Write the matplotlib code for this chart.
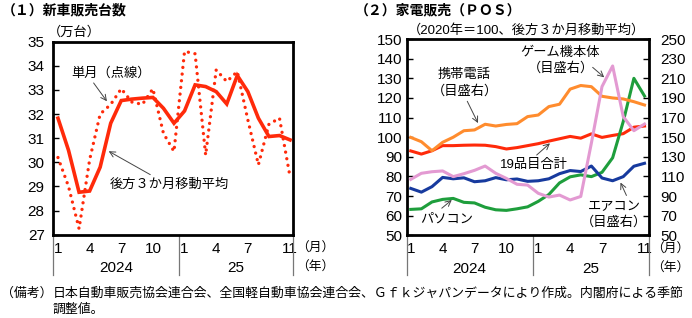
import matplotlib
matplotlib.use('Agg')
import matplotlib.pyplot as plt

plt.rcParams['font.family'] = ['Liberation Sans', 'Noto Sans CJK JP', 'DejaVu Sans']

# ---------------- data ----------------
n_months = 23  # 2024/1 .. 2025/11
month_ticks = [0, 3, 6, 9, 12, 15, 18, 22]
month_labels = ['1', '4', '7', '10', '1', '4', '7', '11']
year_labels = ['2024', '25']

# (1) new car sales (10k units)
car_monthly = [30.2, 29.0, 27.25, 30.1, 32.0, 32.4, 33.05, 32.5, 32.4, 33.05, 31.2, 30.45,
               34.6, 34.5, 30.3, 33.83, 33.35, 33.76, 31.76, 29.9, 31.58, 31.83, 29.4]
car_ma3 = [31.83, 30.5, 28.76, 28.81, 29.8, 31.62, 32.56, 32.62, 32.66, 32.69, 32.24, 31.62,
           32.13, 33.21, 33.14, 32.93, 32.42, 33.6, 32.93, 31.83, 31.07, 31.11, 30.93]

# (2) home appliances POS (2020=100, 3-month MA)
total19 = [93.0, 91.4, 93.1, 95.7, 95.7, 95.9, 96.0, 95.9, 95.2, 94.0, 94.7, 95.7,
           96.7, 98.0, 99.2, 100.4, 99.5, 101.7, 99.9, 100.9, 101.8, 105.1, 105.7]
pc = [63.2, 63.5, 67.0, 68.3, 68.8, 66.8, 66.5, 64.3, 63.0, 62.7, 63.5, 64.5,
      67.3, 70.8, 76.7, 79.8, 80.8, 79.9, 82.1, 89.5, 108.0, 130.0, 121.0]
# right axis series
mobile = [149.8, 145.4, 136.2, 144.8, 150.0, 156.6, 157.4, 163.2, 161.4, 163.0, 163.8, 171.0,
          172.6, 181.2, 183.6, 199.0, 202.7, 201.5, 191.7, 190.0, 189.0, 186.2, 182.8]
game = [107.0, 113.2, 114.8, 115.6, 109.8, 112.8, 116.2, 120.6, 113.2, 108.0, 102.0, 101.2,
        92.8, 89.0, 91.0, 86.0, 89.6, 144.0, 201.6, 222.6, 171.0, 156.6, 163.4]
aircon = [97.8, 94.0, 99.6, 109.0, 107.6, 108.6, 104.6, 105.6, 108.8, 106.6, 107.4, 105.0,
          105.6, 107.6, 112.8, 116.0, 115.0, 120.6, 108.4, 105.6, 109.8, 120.4, 123.4]

RED = '#FF2A0A'
ORANGE = '#FF8C2E'
PINK = '#E39AD2'
GREEN = '#1E9E3C'
BLUE = '#173A9E'
ARROW = '#444444'

x = list(range(n_months))

fig = plt.figure(figsize=(6.92, 3.18), dpi=100)
W, H = 692.0, 318.0


def fig_axes(l, t, r, b):
    return fig.add_axes([l / W, 1 - b / H, (r - l) / W, (b - t) / H])


TICK_FS = 11
TEXT_FS = 9.5
UNIT_FS = 9.2


def style_frame(ax):
    for s in ax.spines.values():
        s.set_linewidth(2.0)
        s.set_color('black')


def bottom_axis(ax, xl, xr, depth, unit_left_px, ax_left_px, ax_w_px, ax_h_px):
    ax.set_xlim(xl, xr)
    ax.set_xticks(month_ticks)
    ax.set_xticklabels(month_labels, fontsize=TICK_FS)
    ax.tick_params(axis='x', length=0, pad=5)
    tr = ax.get_xaxis_transform()
    for xv in (xl, 11.5, xr):
        ax.plot([xv, xv], [0, -depth], transform=tr, clip_on=False,
                color='#777777', lw=0.9)
    ax.text((xl + 11.5) / 2, -0.17, year_labels[0], transform=tr,
            ha='center', va='center', fontsize=TICK_FS)
    ax.text((11.5 + xr) / 2, -0.17, year_labels[1], transform=tr,
            ha='center', va='center', fontsize=TICK_FS)
    ux = (unit_left_px - ax_left_px) / ax_w_px
    ax.text(ux, -14.5 / ax_h_px, '（月）', transform=ax.transAxes, ha='left',
            va='center', fontsize=UNIT_FS)
    ax.text(ux, -33.5 / ax_h_px, '（年）', transform=ax.transAxes, ha='left',
            va='center', fontsize=UNIT_FS)


# ---------------- left panel ----------------
axl = fig_axes(53, 41.7, 293, 234.7)
style_frame(axl)
axl.plot(x, car_monthly, color=RED, lw=2.4, linestyle=(0, (0.01, 2.0)),
         dash_capstyle='round', zorder=3)
axl.plot(x, car_ma3, color=RED, lw=2.6, solid_joinstyle='miter', zorder=4)
axl.set_ylim(27, 35)
axl.set_yticks(range(27, 36))
axl.tick_params(axis='y', direction='in', length=4, width=1, labelsize=TICK_FS, pad=6)
bottom_axis(axl, -0.47, 22.28, 0.209, 296.5, 53, 240, 193)

axl.text(5.02, 33.70, '単月（点線）', ha='center', va='center', fontsize=TEXT_FS)
axl.annotate('', xy=(4.64, 32.53), xytext=(3.38, 33.29),
             arrowprops=dict(arrowstyle='->', color=ARROW, lw=0.7, shrinkA=0, shrinkB=0))
axl.text(10.6, 29.06, '後方３か月移動平均', ha='center', va='center', fontsize=TEXT_FS)
axl.annotate('', xy=(4.81, 30.46), xytext=(8.75, 29.49),
             arrowprops=dict(arrowstyle='->', color=ARROW, lw=0.7, shrinkA=0, shrinkB=0))

# ---------------- right panel ----------------
axr = fig_axes(406.5, 39.1, 649.5, 235.3)
style_frame(axr)
axr.plot(x, total19, color=RED, lw=2.2, zorder=3)
axr.plot(x, pc, color=GREEN, lw=2.2, zorder=3)
axr.set_ylim(50, 150)
axr.set_yticks(range(50, 151, 10))
axr.tick_params(axis='y', direction='in', length=4, width=1, labelsize=TICK_FS, pad=3)
bottom_axis(axr, -0.40, 22.47, 0.202, 651.5, 406.5, 243, 196.2)

ax2 = axr.twinx()
for s in ax2.spines.values():
    s.set_visible(False)
ax2.plot(x, mobile, color=ORANGE, lw=2.2, zorder=3)
ax2.plot(x, aircon, color=BLUE, lw=2.2, zorder=3)
ax2.plot(x, game, color=PINK, lw=2.2, zorder=4)
ax2.set_ylim(50, 250)
ax2.set_yticks(range(50, 251, 20))
ax2.tick_params(axis='y', direction='in', length=4, width=1, labelsize=TICK_FS, pad=8)


def lv(v):
    return 2 * v - 50  # left-axis value -> right-axis value


ap = dict(arrowstyle='->', color=ARROW, lw=0.7, shrinkA=0, shrinkB=0)
ax2.text(5.06, lv(131.7), '携帯電話', ha='center', va='center', fontsize=TEXT_FS)
ax2.text(5.06, lv(123.5), '（目盛右）', ha='center', va='center', fontsize=TEXT_FS)
ax2.annotate('', xy=(6.33, lv(107.2)), xytext=(5.32, lv(118.3)), arrowprops=ap)

ax2.text(14.05, lv(142.9), 'ゲーム機本体', ha='center', va='center', fontsize=TEXT_FS)
ax2.text(14.14, lv(135.3), '（目盛右）', ha='center', va='center', fontsize=TEXT_FS)
ax2.annotate('', xy=(18.21, lv(130.5)), xytext=(17.12, lv(135.6)), arrowprops=ap)

ax2.text(11.6, lv(85.8), '19品目合計', ha='center', va='center', fontsize=TEXT_FS)
ax2.annotate('', xy=(13.1, lv(96.9)), xytext=(11.85, lv(90.9)), arrowprops=ap)

ax2.text(3.37, lv(57.8), 'パソコン', ha='center', va='center', fontsize=TEXT_FS)
ax2.annotate('', xy=(3.86, lv(68.0)), xytext=(2.92, lv(63.8)), arrowprops=ap)

ax2.text(19.17, lv(64.4), 'エアコン', ha='center', va='center', fontsize=TEXT_FS)
ax2.text(19.17, lv(56.8), '（目盛右）', ha='center', va='center', fontsize=TEXT_FS)
ax2.annotate('', xy=(19.74, lv(76.9)), xytext=(20.3, lv(70.3)), arrowprops=ap)

# ---------------- titles & notes ----------------
fig.text(2 / W, 1 - 10 / H, '（１）新車販売台数', fontsize=10, fontweight='bold',
         ha='left', va='center')
fig.text(355 / W, 1 - 10 / H, '（２）家電販売（ＰＯＳ）', fontsize=10, fontweight='bold',
         ha='left', va='center')
fig.text(48 / W, 1 - 32 / H, '（万台）', fontsize=TEXT_FS, ha='left', va='center')
fig.text(408 / W, 1 - 30 / H, '（2020年＝100、後方３か月移動平均）', fontsize=TEXT_FS,
         ha='left', va='center')
NOTE_FS = 9.3
fig.text(0.5 / W, 1 - 294 / H, '（備考）', fontsize=NOTE_FS, ha='left', va='center')
fig.text(52.5 / W, 1 - 294 / H,
         '日本自動車販売協会連合会、全国軽自動車協会連合会、Ｇｆｋジャパンデータにより作成。内閣府による季節',
         fontsize=NOTE_FS, ha='left', va='center')
fig.text(52.5 / W, 1 - 310 / H, '調整値。', fontsize=NOTE_FS, ha='left', va='center')

fig.savefig('out.png', dpi=100)
